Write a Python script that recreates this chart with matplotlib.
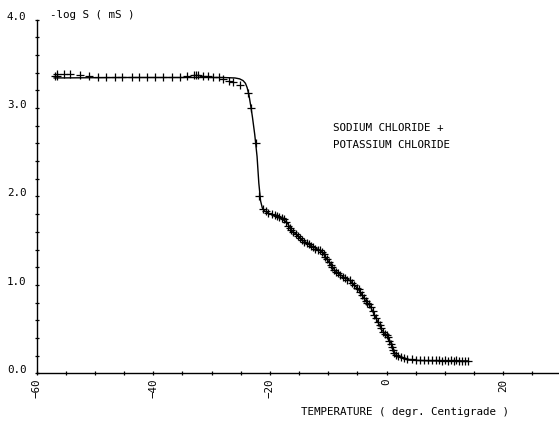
import matplotlib
matplotlib.use("Agg")
import matplotlib.pyplot as plt
from matplotlib.ticker import MultipleLocator, FormatStrFormatter
from matplotlib.transforms import ScaledTranslation

# measured conductivity points (+ markers)
meas_temp = [-56.8, -56.6, -56.5, -55.4, -54.3, -52.6, -51.0, -49.4, -48.1, -46.6,
             -45.3, -43.7, -42.4, -41.1, -39.7, -38.3, -36.8, -35.5, -34.3, -33.1,
             -32.7, -32.3, -31.4, -30.6, -29.7, -28.8, -28.0, -27.1, -26.3, -25.1,
             -23.7, -23.2, -22.4, -21.8, -21.1, -20.6, -20.3, -19.7, -19.2, -18.8,
             -18.4, -18.0, -17.6, -17.2, -16.9, -16.6, -16.3, -16.0, -15.6, -15.2,
             -14.8, -14.5, -14.1, -13.7, -13.3, -12.9, -12.6, -12.2, -11.8, -11.4,
             -11.1, -10.8, -10.5, -10.2, -9.9, -9.6, -9.3, -9.0, -8.7, -8.3,
             -7.9, -7.5, -7.1, -6.7, -6.3, -5.9, -5.5, -5.1, -4.8, -4.5,
             -4.2, -3.9, -3.6, -3.3, -3.0, -2.7, -2.4, -2.1, -1.8, -1.5,
             -1.2, -0.9, -0.6, -0.3, 0.0, 0.3, 0.5, 0.7, 0.9, 1.1,
             1.3, 1.6, 2.0, 2.5, 3.0, 3.6, 4.3, 5.0, 5.7, 6.4,
             7.1, 7.8, 8.5, 9.0, 9.5, 10.0, 10.5, 11.0, 11.5, 12.0,
             12.5, 13.0, 13.5, 14.0]
meas_val = [3.36, 3.38, 3.36, 3.38, 3.38, 3.37, 3.36, 3.355, 3.355, 3.355,
            3.355, 3.355, 3.355, 3.355, 3.355, 3.355, 3.355, 3.355, 3.36, 3.37,
            3.37, 3.37, 3.36, 3.36, 3.355, 3.35, 3.33, 3.31, 3.29, 3.26,
            3.17, 3.00, 2.60, 2.01, 1.86, 1.83, 1.81, 1.80, 1.79, 1.78,
            1.77, 1.76, 1.74, 1.71, 1.67, 1.64, 1.62, 1.60, 1.57, 1.55,
            1.53, 1.51, 1.49, 1.47, 1.46, 1.44, 1.43, 1.41, 1.40, 1.39,
            1.37, 1.35, 1.32, 1.29, 1.26, 1.23, 1.20, 1.17, 1.15, 1.13,
            1.11, 1.09, 1.08, 1.06, 1.05, 1.02, 1.00, 0.97, 0.95, 0.92,
            0.89, 0.85, 0.82, 0.80, 0.78, 0.75, 0.71, 0.66, 0.62, 0.58,
            0.55, 0.51, 0.47, 0.45, 0.43, 0.41, 0.37, 0.33, 0.30, 0.26,
            0.23, 0.21, 0.19, 0.18, 0.17, 0.16, 0.16, 0.155, 0.15, 0.15,
            0.15, 0.145, 0.145, 0.145, 0.14, 0.145, 0.14, 0.145, 0.14, 0.145,
            0.14, 0.14, 0.14, 0.14]

# fitted curve
line_temp = [-57, -45, -35, -28, -26, -25.2, -24.6, -24.2, -23.9, -23.6,
             -23.3, -23.0, -22.6, -22.2, -21.9, -21.6, -21.3, -21.0, -20.3, -18.6,
             -17.1, -16.3, -14.5, -12.6, -11.1, -10.0, -8.8, -7.4, -6.3, -5.1,
             -4.6, -3.7, -2.8, -2.0, -1.4, -0.8, 0.3, 0.9, 1.2, 2.0,
             3.7, 7.7, 14.0]
line_val = [3.34, 3.345, 3.345, 3.345, 3.34, 3.33, 3.31, 3.28, 3.23, 3.15,
            3.03, 2.90, 2.70, 2.45, 2.15, 1.95, 1.87, 1.84, 1.81, 1.77,
            1.71, 1.62, 1.51, 1.43, 1.38, 1.27, 1.16, 1.09, 1.05, 0.97,
            0.93, 0.83, 0.76, 0.65, 0.57, 0.49, 0.41, 0.32, 0.25, 0.19,
            0.15, 0.14, 0.14]

W, H = 559, 425
font = dict(family="DejaVu Sans Mono", size=7.8)

fig = plt.figure(figsize=(W / 100, H / 100), dpi=100)
x0, y0 = 36.7, 373.3
ax = fig.add_axes([x0 / W, (H - y0) / H, 1 - x0 / W, (y0 - 19.6) / H])
ax.set_xlim(-60, -60 + (W - x0) / 5.83)
ax.set_ylim(0, 4.0)

ax.plot(line_temp, line_val, color="black", lw=1.0)
ax.plot(meas_temp, meas_val, ls="none", marker="+", ms=5.5, mew=0.9, color="black")

for s in ["top", "right"]:
    ax.spines[s].set_visible(False)
for s in ["left", "bottom"]:
    ax.spines[s].set_linewidth(1.0)

ax.xaxis.set_major_locator(MultipleLocator(20))
ax.xaxis.set_minor_locator(MultipleLocator(5))
ax.yaxis.set_major_locator(MultipleLocator(1))
ax.yaxis.set_minor_locator(MultipleLocator(0.2))
ax.yaxis.set_major_formatter(FormatStrFormatter("%.1f"))
ax.tick_params(which="both", direction="inout", length=3, width=0.9)
ax.tick_params(axis="x", pad=2.5, labelrotation=90)
ax.tick_params(axis="y", pad=6)
for lab in ax.get_xticklabels():
    lab.set_fontfamily(font["family"])
    lab.set_fontsize(font["size"])
for lab in ax.get_yticklabels():
    lab.set_fontfamily(font["family"])
    lab.set_fontsize(font["size"])
    lab.set_transform(lab.get_transform() + ScaledTranslation(0, 4 / 100, fig.dpi_scale_trans))

fig.text(50 / W, 1 - 15 / H, "-log S ( mS )", va="center", ha="left", **font)
fig.text(301 / W, 1 - 412 / H, "TEMPERATURE ( degr. Centigrade )", va="center", ha="left", **font)
fig.text(333 / W, 1 - 128 / H, "SODIUM CHLORIDE +", va="center", ha="left", **font)
fig.text(333 / W, 1 - 145 / H, "POTASSIUM CHLORIDE", va="center", ha="left", **font)

fig.savefig("out.png", dpi=100)
